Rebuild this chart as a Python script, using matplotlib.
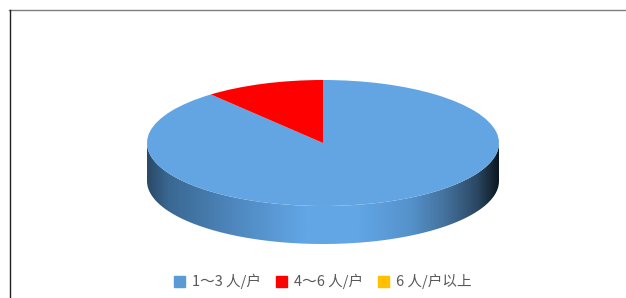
import matplotlib

matplotlib.use("Agg")
import matplotlib.pyplot as plt
import numpy as np
from matplotlib.colors import LinearSegmentedColormap
from matplotlib.patches import Polygon

plt.rcParams["font.family"] = ["Noto Sans CJK SC", "DejaVu Sans"]

categories = ["1～3 人/户", "4～6 人/户", "6 人/户以上"]
shares = [89, 11, 0]
colors = ["#63a5e3", "#ff0000", "#ffc000"]
legend_colors = ["#5b9bd5", "#ff0000", "#ffc000"]

# pie geometry in figure pixels: ellipse radii and wall depth
rx, ry, depth_px = 176, 63, 38
cx, cy = 323, 143
W, H = 626, 298

fig = plt.figure(figsize=(6.26, 2.98), dpi=100)
ax = fig.add_axes([0, 0, 1, 1])

wedges, _ = ax.pie(shares, colors=colors, startangle=90, counterclock=False,
                   radius=1, center=(0, 0), wedgeprops=dict(linewidth=0))
for w in wedges:
    w.set_zorder(3)

ax.set_aspect("auto")
ax.set_xlim(-cx / rx, (W - cx) / rx)
ax.set_ylim(-(H - cy) / ry, cy / ry)
ax.axis("off")

# front side wall of the disc (only the near half is visible)
depth = depth_px / ry
t = np.linspace(np.pi, 2 * np.pi, 200)
top = np.column_stack([np.cos(t), np.sin(t)])
bot = np.column_stack([np.cos(t[::-1]), np.sin(t[::-1]) - depth])
wall = Polygon(np.vstack([top, bot]), closed=True, facecolor="none",
               edgecolor="none", zorder=2)
ax.add_patch(wall)

wall_cmap = LinearSegmentedColormap.from_list("wall", [
    (0.00, "#2a4a6a"), (0.06, "#3a6892"), (0.25, "#4f88bf"),
    (0.45, "#62a6e6"), (0.60, "#62a6e6"), (0.75, "#5592cb"),
    (0.85, "#44719c"), (0.94, "#2b4864"), (1.00, "#0e1822")])
grad = np.linspace(0, 1, 400).reshape(1, -1)
img = ax.imshow(grad, cmap=wall_cmap, aspect="auto",
                extent=(-1, 1, -1 - depth, 0), zorder=2)
img.set_clip_path(wall)

# legend
handles = [plt.Rectangle((0, 0), 1, 1, color=c) for c in legend_colors]
ax.legend(handles, categories, loc="lower center", bbox_to_anchor=(0.516, -0.015),
          ncol=3, frameon=False, fontsize=10.5, handlelength=0.75,
          handleheight=0.75, handletextpad=0.5, columnspacing=1.0,
          labelcolor="#595959")

# outer frame (runs off the right and bottom edges)
fig.add_artist(plt.Line2D([9 / W, 1], [1 - 9.5 / H, 1 - 9.5 / H],
                          color="#7f7f7f", lw=1))
fig.add_artist(plt.Line2D([9.5 / W, 9.5 / W], [0, 1 - 9.5 / H],
                          color="#202020", lw=1))

fig.savefig("out.png", dpi=100)
